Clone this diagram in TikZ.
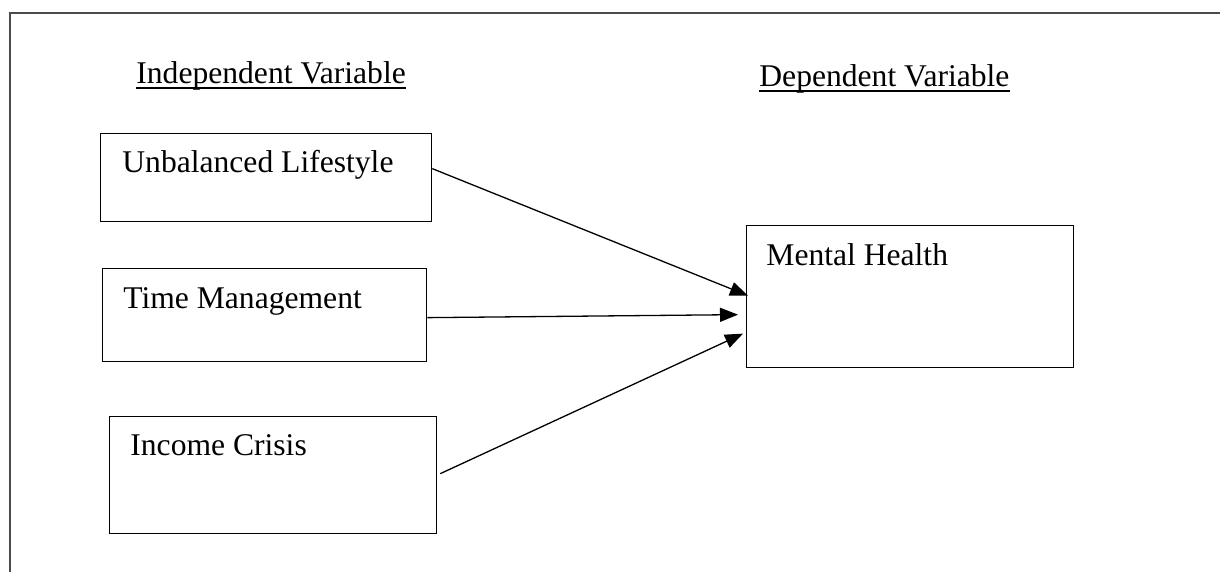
\documentclass[tikz,border=0pt]{standalone}
\usepackage{fontspec}
\setmainfont{Liberation Serif}
\usetikzlibrary{arrows.meta}
\begin{document}
\begin{tikzpicture}[x=0.5pt,y=-0.5pt,
  box/.style={draw=black, line width=0.65pt, rectangle, inner sep=0pt, anchor=north west},
  lbl/.style={anchor=base west, inner sep=0pt, font=\fontsize{15.8pt}{19pt}\selectfont},
  link/.style={line width=0.65pt, -{Triangle[length=9pt,width=7pt]}},
  uline/.style={line width=0.9pt}]
\useasboundingbox (0,0) rectangle (1220,572);
% outer frame (top and left edges)
\draw[line width=1pt, color=black!70] (10,572) -- (10,13) -- (1220,13);

% column headings
\node[lbl] (hind) at (136,84) {Independent Variable};
\node[lbl] (hdep) at (759,87) {Dependent Variable};
\draw[uline] ([yshift=-2pt]hind.base west) -- ([yshift=-2pt]hind.base east);
\draw[uline] ([yshift=-2pt]hdep.base west) -- ([yshift=-2pt]hdep.base east);

% variable boxes
\node[box, minimum width=165.5pt, minimum height=44pt] (ul) at (100,133) {};
\node[box, minimum width=162pt, minimum height=46.5pt] (tm) at (102,268) {};
\node[box, minimum width=163.5pt, minimum height=58.5pt] (ic) at (109,416) {};
\node[box, minimum width=163.5pt, minimum height=71pt] (mh) at (746,225) {};

\node[lbl] (tul) at (122,173) {Unbalanced Lifestyle};
\node[lbl] (ttm) at (123,308) {Time Management};
\node[lbl] (tic) at (130,455) {Income Crisis};
\node[lbl] (tmh) at (766,265) {Mental Health};

% links
\draw[link] ([yshift=4.5pt]ul.east) -- ([xshift=1pt,yshift=0.5pt]mh.west);
\draw[link] ([yshift=-1.25pt]tm.east) -- ([xshift=-4pt,yshift=-9pt]mh.west);
\draw[link] ([xshift=1.5pt,yshift=0.75pt]ic.east) -- ([xshift=-1.5pt,yshift=-18.5pt]mh.west);
\end{tikzpicture}
\end{document}
